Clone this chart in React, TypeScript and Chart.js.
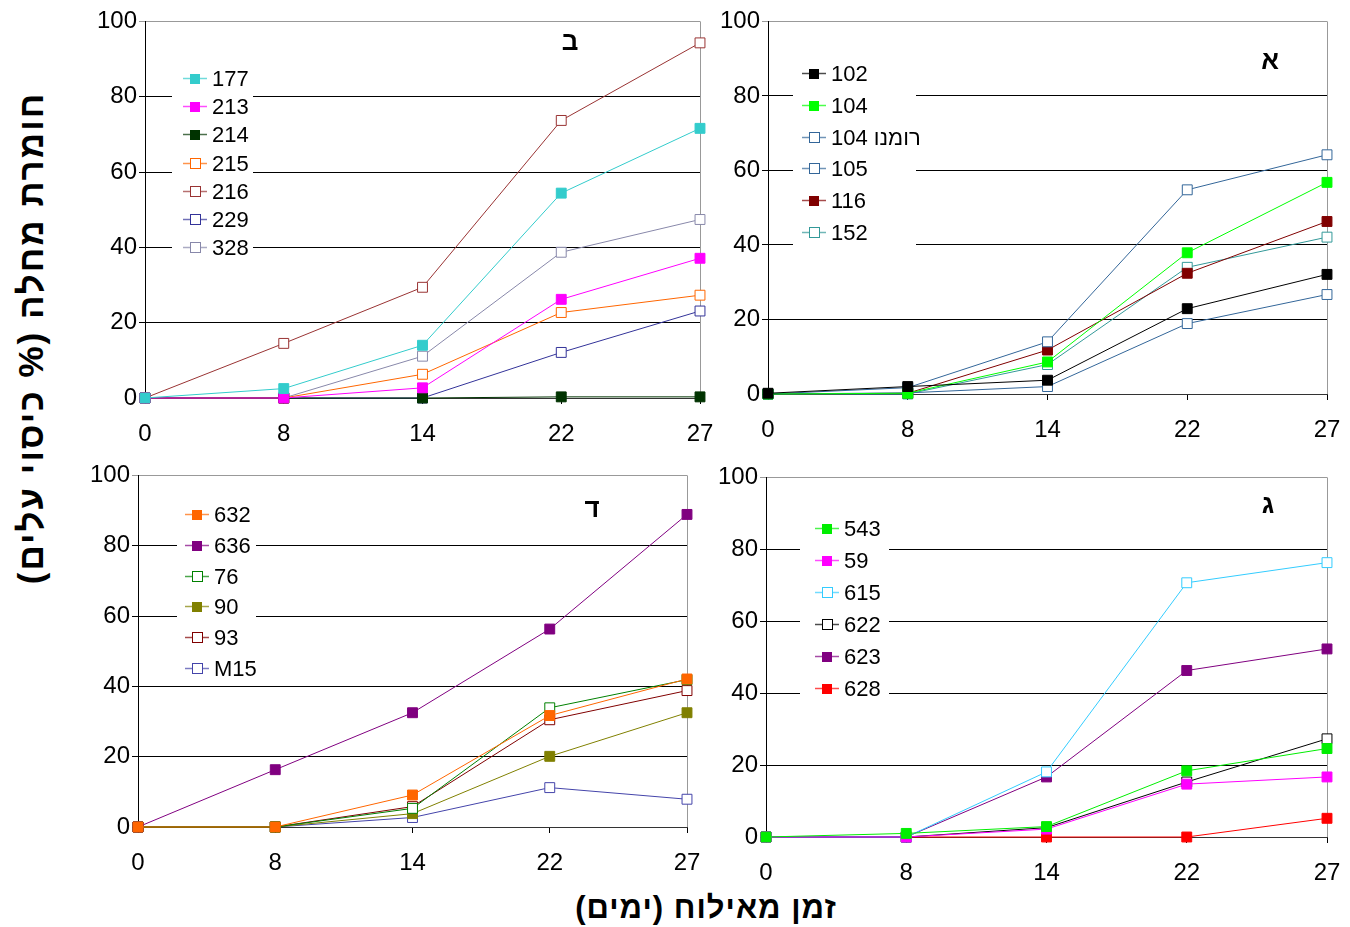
import React, { useEffect, useRef } from 'react';
import { Chart, registerables } from 'chart.js';

Chart.register(...registerables);
Chart.defaults.font.family = '"Liberation Sans", Arial, "DejaVu Sans", sans-serif';

// ---------- shared axis data ----------
const days = ['0', '8', '14', '22', '27'];
const yMin = 0;
const yMax = 100;
const yStep = 20;

// ---------- panel ב (top-left) ----------
const bNames = ['177', '213', '214', '215', '216', '229', '328'];
const b177 = [0, 2.5, 14.0, 54.4, 71.6];
const b213 = [0, 0, 2.7, 26.2, 37.1];
const b214 = [0, 0, 0, 0.3, 0.3];
const b215 = [0, 0, 6.3, 22.7, 27.3];
const b216 = [0, 14.5, 29.4, 73.7, 94.3];
const b229 = [0, 0, 0, 12.1, 23.1];
const b328 = [0, 0, 11.1, 38.7, 47.4];

// ---------- panel א (top-right) ----------
const aNames = ['102', '104', '104 רומנו', '105', '116', '152'];
const a102 = [0.2, 2.0, 3.7, 22.9, 32.1];
const a104 = [0, 0.2, 8.6, 37.9, 56.8];
const a104r = [0, 1.7, 14.0, 54.8, 64.2];
const a105 = [0, 0.3, 2.0, 18.9, 26.7];
const a116 = [0, 0.2, 11.8, 32.4, 46.3];
const a152 = [0, 0, 7.9, 34.0, 42.1];

// ---------- panel ד (bottom-left) ----------
const dNames = ['632', '636', '76', '90', '93', 'M15'];
const d632 = [0, 0, 9.1, 31.7, 42.1];
const d636 = [0, 16.3, 32.5, 56.3, 88.9];
const d76 = [0, 0, 5.3, 33.9, 41.9];
const d90 = [0, 0, 3.8, 20.1, 32.5];
const d93 = [0, 0, 5.8, 30.5, 38.8];
const dM15 = [0, 0, 2.7, 11.2, 7.9];

// ---------- panel ג (bottom-right) ----------
const gNames = ['543', '59', '615', '622', '623', '628'];
const g543 = [0, 1.0, 2.9, 18.4, 24.6];
const g59 = [0, 0, 2.2, 14.7, 16.7];
const g615 = [0, 0, 18.1, 70.7, 76.3];
const g622 = [0, 0, 2.6, 15.3, 27.3];
const g623 = [0, 0, 16.7, 46.3, 52.3];
const g628 = [0, 0, 0, 0, 5.2];

const yTitle = 'חומרת מחלה (% כיסוי עלים)';
const xTitle = 'זמן מאילוח (ימים)';

type Series = { label: string; data: number[]; color: string; filled: boolean };
type Panel = {
  letter: string;
  area: { l: number; t: number; r: number; b: number };
  letterPos: [number, number];
  legend: { mx: number; y0: number; gap: number; box: [number, number, number, number] };
  series: Series[];
};

const panels: Panel[] = [
  {
    letter: 'ב',
    area: { l: 145, t: 20, r: 700, b: 398 },
    letterPos: [570, 43],
    legend: { mx: 195, y0: 78, gap: 28.2, box: [172, 60, 253, 262] },
    series: [
      { label: bNames[0], data: b177, color: '#33CCCC', filled: true },
      { label: bNames[1], data: b213, color: '#FF00FF', filled: true },
      { label: bNames[2], data: b214, color: '#003300', filled: true },
      { label: bNames[3], data: b215, color: '#FF6600', filled: false },
      { label: bNames[4], data: b216, color: '#993333', filled: false },
      { label: bNames[5], data: b229, color: '#333399', filled: false },
      { label: bNames[6], data: b328, color: '#8888AA', filled: false },
    ],
  },
  {
    letter: 'א',
    area: { l: 768, t: 20, r: 1327, b: 394 },
    letterPos: [1270, 62],
    legend: { mx: 814, y0: 73, gap: 31.8, box: [793, 55, 916, 250] },
    series: [
      { label: aNames[0], data: a102, color: '#000000', filled: true },
      { label: aNames[1], data: a104, color: '#00FF00', filled: true },
      { label: aNames[2], data: a104r, color: '#336699', filled: false },
      { label: aNames[3], data: a105, color: '#336699', filled: false },
      { label: aNames[4], data: a116, color: '#800000', filled: true },
      { label: aNames[5], data: a152, color: '#339999', filled: false },
    ],
  },
  {
    letter: 'ד',
    area: { l: 138, t: 474, r: 687, b: 827 },
    letterPos: [592, 510],
    legend: { mx: 197, y0: 514, gap: 30.8, box: [177, 496, 256, 683] },
    series: [
      { label: dNames[0], data: d632, color: '#FF6600', filled: true },
      { label: dNames[1], data: d636, color: '#800080', filled: true },
      { label: dNames[2], data: d76, color: '#008000', filled: false },
      { label: dNames[3], data: d90, color: '#808000', filled: true },
      { label: dNames[4], data: d93, color: '#800000', filled: false },
      { label: dNames[5], data: dM15, color: '#4444AA', filled: false },
    ],
  },
  {
    letter: 'ג',
    area: { l: 766, t: 476, r: 1327, b: 837 },
    letterPos: [1268, 506],
    legend: { mx: 827, y0: 528, gap: 32, box: [800, 510, 889, 705] },
    series: [
      { label: gNames[0], data: g543, color: '#00EE00', filled: true },
      { label: gNames[1], data: g59, color: '#FF00FF', filled: true },
      { label: gNames[2], data: g615, color: '#33CCFF', filled: false },
      { label: gNames[3], data: g622, color: '#000000', filled: false },
      { label: gNames[4], data: g623, color: '#800080', filled: true },
      { label: gNames[5], data: g628, color: '#FF0000', filled: true },
    ],
  },
];

const PAD_L = 60;
const PAD_T = 15;
const PAD_R = 34;
const PAD_B = 50;

const framePlugin = {
  id: 'frame',
  beforeDatasetsDraw(chart: any) {
    const { ctx, chartArea } = chart;
    ctx.save();
    ctx.strokeStyle = '#999999';
    ctx.lineWidth = 1;
    const x = Math.round(chartArea.right) + 0.5;
    ctx.beginPath();
    ctx.moveTo(x, chartArea.top);
    ctx.lineTo(x, chartArea.bottom);
    ctx.stroke();
    ctx.restore();
  },
};

const innerLegendPlugin = {
  id: 'innerLegend',
  afterDraw(chart: any, _args: any, opts: any) {
    const { ctx } = chart;
    const p: Panel = opts.panel;
    if (!p) return;
    const ox = p.area.l - PAD_L;
    const oy = p.area.t - PAD_T;
    ctx.save();
    const [bl, bt, br, bb] = p.legend.box;
    ctx.fillStyle = '#ffffff';
    ctx.fillRect(bl - ox, bt - oy, br - bl, bb - bt);
    const mx = p.legend.mx - ox;
    p.series.forEach((s, i) => {
      const y = Math.round(p.legend.y0 + i * p.legend.gap - oy) + 0.5;
      ctx.globalAlpha = 0.7;
      ctx.strokeStyle = s.color;
      ctx.lineWidth = 1.5;
      ctx.beginPath();
      ctx.moveTo(mx - 12, y);
      ctx.lineTo(mx + 12, y);
      ctx.stroke();
      ctx.globalAlpha = 1;
      ctx.lineWidth = 1;
      if (s.filled) {
        ctx.fillStyle = s.color;
        ctx.fillRect(Math.round(mx) - 5, Math.round(y) - 5, 10, 10);
      } else {
        ctx.fillStyle = '#ffffff';
        ctx.fillRect(Math.round(mx) - 5, Math.round(y) - 5, 10, 10);
        ctx.strokeStyle = s.color;
        ctx.strokeRect(Math.round(mx) - 4.5, Math.round(y) - 5.5, 10, 10);
      }
      ctx.fillStyle = '#000000';
      ctx.font = '22px "Liberation Sans", Arial, sans-serif';
      ctx.textAlign = 'left';
      ctx.textBaseline = 'middle';
      ctx.fillText(s.label, mx + 17, y + 1);
    });
    ctx.font = 'bold 26px "Liberation Sans", Arial, "DejaVu Sans", sans-serif';
    ctx.textAlign = 'center';
    ctx.textBaseline = 'middle';
    ctx.fillStyle = '#000000';
    ctx.fillText(p.letter, p.letterPos[0] - ox, p.letterPos[1] - oy);
    ctx.restore();
  },
};

function PanelChart({ panel }: { panel: Panel }) {
  const ref = useRef<HTMLCanvasElement | null>(null);
  const w = panel.area.r - panel.area.l + PAD_L + PAD_R;
  const h = panel.area.b - panel.area.t + PAD_T + PAD_B;

  useEffect(() => {
    if (!ref.current) return;
    const chart = new Chart(ref.current, {
      type: 'line',
      data: {
        labels: days,
        datasets: panel.series.map((s) => ({
          label: s.label,
          data: s.data,
          borderColor: s.color,
          backgroundColor: s.color,
          borderWidth: 1,
          pointStyle: 'rect',
          pointRadius: 7,
          pointBorderWidth: 1,
          pointBackgroundColor: s.filled ? s.color : '#ffffff',
          pointBorderColor: s.color,
          tension: 0,
          fill: false,
          clip: false,
        })),
      },
      options: {
        responsive: false,
        animation: false,
        devicePixelRatio: 1,
        layout: { padding: { top: PAD_T, right: PAD_R, left: 0, bottom: 0 } },
        plugins: {
          legend: { display: false },
          tooltip: { enabled: false },
          innerLegend: { panel },
        } as any,
        scales: {
          x: {
            type: 'category',
            offset: false,
            grid: { drawOnChartArea: false, tickLength: 6, color: '#000000' },
            border: { color: '#333333', width: 1 },
            ticks: {
              font: { size: 24 },
              color: '#000000',
              padding: 16,
              maxRotation: 0,
              autoSkip: false,
            },
            afterFit: (s: any) => {
              s.height = PAD_B;
            },
          },
          y: {
            min: yMin,
            max: yMax,
            ticks: { stepSize: yStep, font: { size: 24 }, color: '#000000', padding: 2 },
            grid: {
              color: (c: any) => (c.tick && c.tick.value === yMax ? '#999999' : '#000000'),
              tickLength: 6,
              lineWidth: 1,
            },
            border: { color: '#000000', width: 1 },
            afterFit: (s: any) => {
              s.width = PAD_L;
            },
          },
        },
      } as any,
      plugins: [framePlugin, innerLegendPlugin],
    });
    return () => chart.destroy();
  }, [panel]);

  return (
    <canvas
      ref={ref}
      width={w}
      height={h}
      style={{
        position: 'absolute',
        left: panel.area.l - PAD_L,
        top: panel.area.t - PAD_T,
        width: w,
        height: h,
      }}
    />
  );
}

export default function App() {
  const font = '"Liberation Sans", Arial, "DejaVu Sans", sans-serif';
  return (
    <div
      style={{
        position: 'absolute',
        left: 0,
        top: 0,
        width: 1350,
        height: 927,
        background: '#ffffff',
        overflow: 'hidden',
      }}
    >
      {panels.map((p, i) => (
        <PanelChart key={i} panel={p} />
      ))}
      <div
        style={{
          position: 'absolute',
          left: 30,
          top: 338,
          transform: 'translate(-50%, -50%) rotate(-90deg)',
          whiteSpace: 'nowrap',
          fontFamily: font,
          fontWeight: 'bold',
          fontSize: 35,
          letterSpacing: 2,
          direction: 'rtl',
          lineHeight: 1,
          color: '#000',
        }}
      >
        {yTitle}
      </div>
      <div
        style={{
          position: 'absolute',
          left: 706,
          top: 907,
          transform: 'translate(-50%, -50%)',
          whiteSpace: 'nowrap',
          fontFamily: font,
          fontWeight: 'bold',
          fontSize: 31,
          letterSpacing: 1,
          direction: 'rtl',
          lineHeight: 1,
          color: '#000',
        }}
      >
        {xTitle}
      </div>
    </div>
  );
}
